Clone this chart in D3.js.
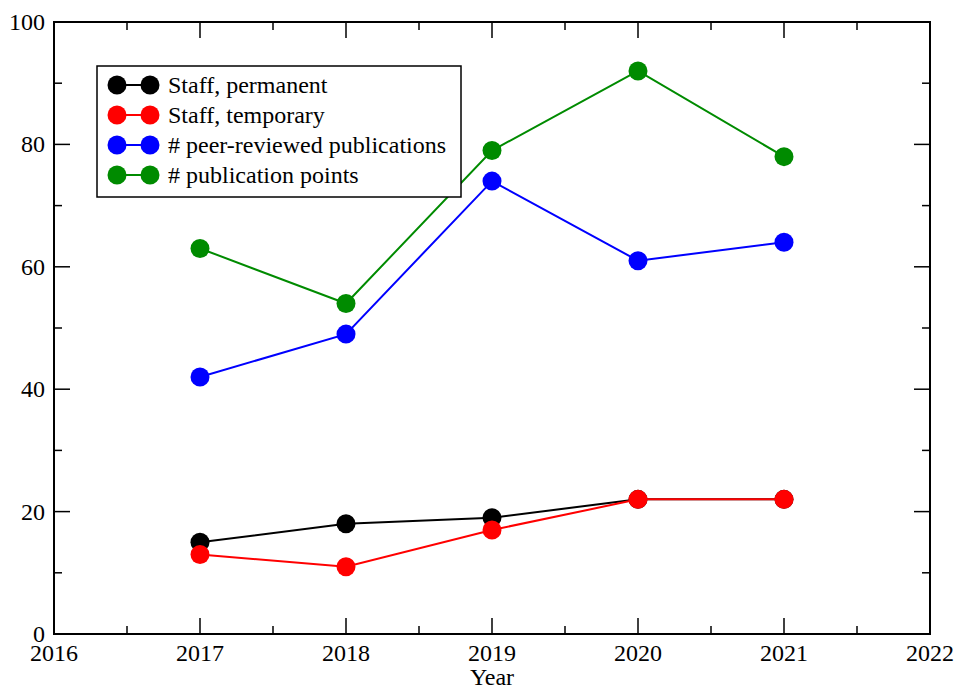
<!DOCTYPE html>
<html>
<head>
<meta charset="utf-8">
<script src="https://cdn.jsdelivr.net/npm/d3@7/dist/d3.min.js"></script>
<style>
  body { margin: 0; background: #fff; }
  svg text { font-family: "Liberation Serif", "Times New Roman", serif; fill: #000; }
</style>
</head>
<body>
<svg id="chart" width="958" height="692"></svg>
<script>
const years = [ 2017, 2018, 2019, 2020, 2021 ]

const staffPermanent = [ 15, 18, 19, 22, 22 ]
const staffTemporary = [ 13, 11, 17, 22, 22 ]
const peerReviewed = [ 42, 49, 74, 61, 64 ]
const pubPoints = [ 63, 54, 79, 92, 78 ]

const seriesNames = [ 'Staff, permanent', 'Staff, temporary', '# peer-reviewed publications', '# publication points' ]
const seriesColors = [ '#000000', '#ff0000', '#0000ff', '#008b00' ]

const xTicks = [ 2016, 2017, 2018, 2019, 2020, 2021, 2022 ]
const yTicks = [ 0, 20, 40, 60, 80, 100 ]

const series = [ staffPermanent, staffTemporary, peerReviewed, pubPoints ]
    .map( ( values, i ) => ( { name: seriesNames[i], color: seriesColors[i], values } ) )

const margin = { left: 54, top: 22, right: 28, bottom: 58 },
      width = 958 - margin.left - margin.right,
      height = 692 - margin.top - margin.bottom

const svg = d3.select('#chart')
const g = svg.append('g').attr('transform', `translate(${margin.left},${margin.top})`)

const x = d3.scaleLinear().domain([ 2016, 2022 ]).range([ 0, width ])
const y = d3.scaleLinear().domain([ 0, 100 ]).range([ height, 0 ])

const xMinor = d3.range( 2016.5, 2022, 1 ),
      yMinor = d3.range( 10, 100, 20 )

// inward ticks on all four sides
const tickGroup = g.append('g').attr('stroke', '#000').attr('stroke-width', 1.5)
const addTicks = ( vals, len ) => {
    vals.forEach( v => {
        tickGroup.append('line').attr('x1', x(v)).attr('x2', x(v)).attr('y1', height).attr('y2', height - len)
        tickGroup.append('line').attr('x1', x(v)).attr('x2', x(v)).attr('y1', 0).attr('y2', len)
    } )
}
const addYTicks = ( vals, len ) => {
    vals.forEach( v => {
        tickGroup.append('line').attr('y1', y(v)).attr('y2', y(v)).attr('x1', 0).attr('x2', len)
        tickGroup.append('line').attr('y1', y(v)).attr('y2', y(v)).attr('x1', width).attr('x2', width - len)
    } )
}
addTicks( xTicks.slice( 1, -1 ), 16 )
addTicks( xMinor, 8 )
addYTicks( yTicks.slice( 1, -1 ), 16 )
addYTicks( yMinor, 8 )

g.append('rect')
    .attr('width', width).attr('height', height)
    .attr('fill', 'none').attr('stroke', '#000').attr('stroke-width', 2)

// tick labels
g.selectAll('text.xlab').data( xTicks ).enter().append('text')
    .attr('class', 'xlab')
    .attr('x', d => x(d)).attr('y', height + 27)
    .attr('text-anchor', 'middle')
    .style('font-size', '24px')
    .text( d => d )

g.selectAll('text.ylab').data( yTicks ).enter().append('text')
    .attr('class', 'ylab')
    .attr('x', -9).attr('y', d => y(d) + 8)
    .attr('text-anchor', 'end')
    .style('font-size', '24px')
    .text( d => d )

g.append('text')
    .attr('x', width / 2).attr('y', height + 51)
    .attr('text-anchor', 'middle')
    .style('font-size', '24px')
    .text('Year')

// series
const line = d3.line().x( ( d, i ) => x( years[i] ) ).y( d => y(d) )

series.forEach( s => {
    g.append('path')
        .attr('d', line( s.values ))
        .attr('fill', 'none')
        .attr('stroke', s.color)
        .attr('stroke-width', 2)

    g.selectAll(null).data( s.values ).enter().append('circle')
        .attr('cx', ( d, i ) => x( years[i] ))
        .attr('cy', d => y(d))
        .attr('r', 9.5)
        .attr('fill', s.color)
} )

// legend
const legend = svg.append('g').attr('transform', 'translate(97,66)')
legend.append('rect')
    .attr('width', 364).attr('height', 131)
    .attr('fill', '#fff').attr('stroke', '#000').attr('stroke-width', 1.5)

series.forEach( ( s, i ) => {
    const ly = 19 + i * 30
    legend.append('line')
        .attr('x1', 20).attr('x2', 53).attr('y1', ly).attr('y2', ly)
        .attr('stroke', s.color).attr('stroke-width', 2)
    legend.append('circle').attr('cx', 20).attr('cy', ly).attr('r', 9.5).attr('fill', s.color)
    legend.append('circle').attr('cx', 53).attr('cy', ly).attr('r', 9.5).attr('fill', s.color)
    legend.append('text')
        .attr('x', 71).attr('y', ly + 8)
        .style('font-size', '24px')
        .text( s.name )
} )
</script>
</body>
</html>
